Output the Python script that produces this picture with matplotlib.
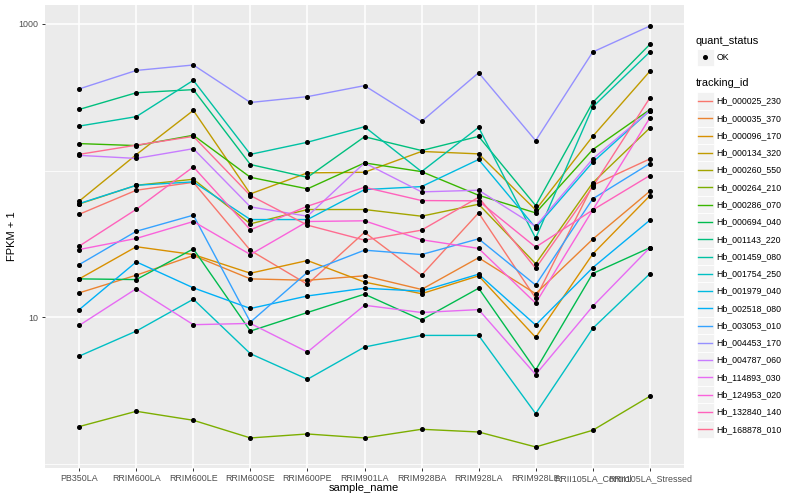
import numpy as np
import matplotlib
matplotlib.use('Agg')
import matplotlib.pyplot as plt
from matplotlib.ticker import FixedLocator, FixedFormatter, NullFormatter
from matplotlib.patches import Rectangle
from matplotlib.lines import Line2D

plt.rcParams['font.family'] = ['Liberation Sans', 'DejaVu Sans']

# sample order on the x axis
samples = ['PB350LA', 'RRIM600LA', 'RRIM600LE', 'RRIM600SE', 'RRIM600PE', 'RRIM901LA',
           'RRIM928BA', 'RRIM928LA', 'RRIM928LE', 'RRII105LA_Control', 'RRII105LA_Stressed']

# FPKM + 1 per gene
hb_000025_230 = [50.4, 73.5, 83.2, 28.6, 16.8, 38.0, 19.4, 51.5, 13.5, 79.4, 120]
hb_000035_370 = [14.7, 19.4, 26.4, 18.3, 17.9, 19.2, 15.5, 25.5, 14.5, 34.1, 72.3]
hb_000096_170 = [18.3, 30.3, 26.8, 20.0, 24.4, 17.4, 14.5, 19.2, 7.31, 27.0, 67.3]
hb_000134_320 = [62.0, 128.5, 257, 69.4, 96.5, 97.4, 135, 130, 54.0, 171, 474]
hb_000260_550 = [59.2, 79.4, 87.3, 43.4, 54.3, 54.3, 48.9, 59.0, 23.2, 82.5, 195]
hb_000264_210 = [1.805, 2.294, 1.992, 1.51, 1.607, 1.51, 1.73, 1.658, 1.311, 1.703, 2.901]
hb_000286_070 = [152.7, 148, 174, 90.0, 75.1, 112.8, 98.4, 67.9, 51.5, 139, 260]
hb_000694_040 = [18.3, 18.1, 29.3, 8.07, 10.8, 14.4, 9.62, 15.8, 4.38, 19.9, 29.8]
hb_001143_220 = [261, 339, 356, 110, 90.0, 170, 137, 171, 57.8, 291, 723]
hb_001459_080 = [201, 233, 412, 129, 156, 199, 98.4, 197, 34.6, 271, 642]
hb_001754_250 = [5.45, 8.07, 13.3, 5.66, 3.79, 6.28, 7.54, 7.54, 2.213, 8.42, 19.8]
hb_001979_040 = [59.6, 79.4, 83.8, 46.4, 46.4, 74.2, 77.8, 119, 40.8, 114, 256]
hb_002518_080 = [11.3, 23.9, 15.9, 11.5, 14.0, 15.8, 15.1, 19.7, 8.87, 21.8, 45.9]
hb_003053_010 = [22.9, 38.6, 49.7, 9.29, 20.3, 28.7, 26.8, 34.3, 16.6, 64.2, 111.6]
hb_004453_170 = [360, 481, 524, 291, 319, 379, 216, 464, 160, 642, 965]
hb_004787_060 = [127, 121, 141, 56.6, 48.9, 112.8, 71.6, 73.5, 41.8, 120, 256]
hb_114893_030 = [8.82, 15.7, 8.92, 9.10, 5.81, 12.1, 10.8, 11.3, 4.08, 11.9, 29.8]
hb_124953_020 = [29.0, 34.5, 45.0, 26.8, 45.0, 45.5, 33.8, 29.5, 12.5, 53.9, 228]
hb_132840_140 = [30.6, 54.5, 106, 39.5, 57.2, 77.0, 62.5, 62.2, 30.1, 53.9, 92.5]
hb_168878_010 = [129, 149, 171, 67.6, 42.5, 33.6, 39.3, 65.8, 21.6, 77.5, 312]

tracking_ids = ['Hb_000025_230', 'Hb_000035_370', 'Hb_000096_170', 'Hb_000134_320',
                'Hb_000260_550', 'Hb_000264_210', 'Hb_000286_070', 'Hb_000694_040',
                'Hb_001143_220', 'Hb_001459_080', 'Hb_001754_250', 'Hb_001979_040',
                'Hb_002518_080', 'Hb_003053_010', 'Hb_004453_170', 'Hb_004787_060',
                'Hb_114893_030', 'Hb_124953_020', 'Hb_132840_140', 'Hb_168878_010']
series = [hb_000025_230, hb_000035_370, hb_000096_170, hb_000134_320, hb_000260_550,
          hb_000264_210, hb_000286_070, hb_000694_040, hb_001143_220, hb_001459_080,
          hb_001754_250, hb_001979_040, hb_002518_080, hb_003053_010, hb_004453_170,
          hb_004787_060, hb_114893_030, hb_124953_020, hb_132840_140, hb_168878_010]

# ggplot default hue palette for 20 levels
colors = ['#F8766D', '#EA8331', '#D89000', '#C09B00', '#A3A500', '#7CAE00', '#39B600',
          '#00BB4E', '#00BF7D', '#00C1A3', '#00BFC4', '#00BAE0', '#00B0F6', '#35A2FF',
          '#9590FF', '#C77CFF', '#E76BF3', '#FA62DB', '#FF62BC', '#FF6C91']

W, H = 800, 500
fig = plt.figure(figsize=(8, 5), dpi=100)
ax = fig.add_axes([45 / W, 1 - 468 / H, 639 / W, 463 / H])

x = np.arange(1, len(samples) + 1)
for vals, col in zip(series, colors):
    ax.plot(x, vals, color=col, lw=1.0, zorder=2)
for vals in series:
    ax.plot(x, vals, 'o', color='black', ms=2.6, zorder=3)

# log scale with ggplot-like 5% expansion
allv = np.log10(np.concatenate([np.array(s, dtype=float) for s in series]))
lo, hi = allv.min(), allv.max()
pad = 0.05 * (hi - lo)
ax.set_yscale('log')
ax.set_ylim(10 ** (lo - pad), 10 ** (hi + pad))
ax.set_xlim(0.4, len(samples) + 0.6)

ax.set_facecolor('#EBEBEB')
for s in ax.spines.values():
    s.set_visible(False)
ax.set_axisbelow(True)

ax.yaxis.set_major_locator(FixedLocator([10, 1000]))
ax.yaxis.set_major_formatter(FixedFormatter(['10', '1000']))
ax.yaxis.set_minor_locator(FixedLocator([1, 100]))
ax.yaxis.set_minor_formatter(NullFormatter())
ax.set_xticks(x)
ax.set_xticklabels(samples)

ax.grid(which='major', color='white', lw=1.1)
ax.grid(which='minor', axis='y', color='white', lw=0.55)
ax.tick_params(which='minor', length=0)
ax.tick_params(which='major', length=2.5, width=0.7, color='#333333',
               labelsize=6.4, labelcolor='#4D4D4D', pad=2)

fig.text(364 / W, 1 - 488 / H, 'sample_name', ha='center', va='center', fontsize=8)
fig.text(12 / W, 1 - 236 / H, 'FPKM + 1', ha='center', va='center', rotation=90, fontsize=8)

# legends, drawn in figure pixels
def fy(py):
    return 1 - py / H

key_w, key_h = 17.3, 17.3
fig.text(696 / W, fy(40.7), 'quant_status', ha='left', va='center', fontsize=7.9)
fig.patches.append(Rectangle((696.5 / W, fy(57.3 + key_h / 2)), key_w / W, key_h / H,
                             transform=fig.transFigure, facecolor='#F2F2F2',
                             edgecolor='white', lw=0.6))
fig.lines.append(Line2D([705.2 / W], [fy(57.3)], marker='o', ms=2.6, color='black',
                        transform=fig.transFigure))
fig.text(716.7 / W, fy(57.3), 'OK', ha='left', va='center', fontsize=6.3)

fig.text(696 / W, fy(83.3), 'tracking_id', ha='left', va='center', fontsize=7.9)
for i, (tid, col) in enumerate(zip(tracking_ids, colors)):
    cy = 101 + 17.28 * i
    fig.patches.append(Rectangle((696.5 / W, fy(cy + key_h / 2)), key_w / W, key_h / H,
                                 transform=fig.transFigure, facecolor='#F2F2F2',
                                 edgecolor='white', lw=0.6))
    fig.lines.append(Line2D([698.2 / W, 712.2 / W], [fy(cy), fy(cy)], color=col, lw=1.0,
                            transform=fig.transFigure))
    fig.text(716.7 / W, fy(cy), tid, ha='left', va='center', fontsize=6.3)

fig.savefig('out.png', dpi=100)
